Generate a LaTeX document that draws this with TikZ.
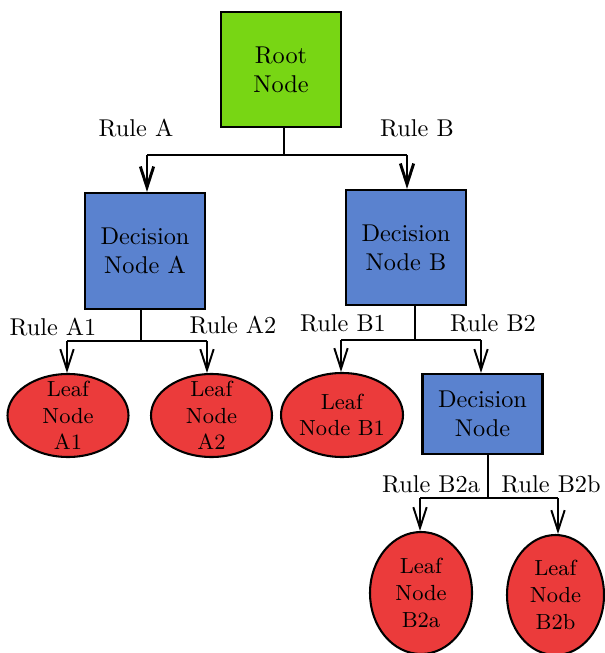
\documentclass[tikz,border=0pt]{standalone}
\usetikzlibrary{arrows.meta,shapes.geometric}
\definecolor{rootgreen}{RGB}{120,214,20}
\definecolor{decblue}{RGB}{90,130,207}
\definecolor{leafred}{RGB}{235,59,59}
\begin{document}
\begin{tikzpicture}[x=0.4115pt,y=-0.4115pt,
 box/.style={draw, line width=0.9pt, align=center, inner sep=0pt, font=\normalsize},
 rootbox/.style={box, fill=rootgreen, minimum width={120*0.4115pt}, minimum height={115*0.4115pt}},
 decbox/.style={box, fill=decblue, minimum width={120*0.4115pt}},
 leaf/.style={ellipse, draw, line width=0.85pt, fill=leafred, inner sep=0pt},
 leaftext/.style={align=center, inner sep=0pt, font=\small},
 conn/.style={line width=0.8pt},
 connthick/.style={line width=1.2pt},
 arrowtip/.style={-{Straight Barb[length=8.5pt,width=5.5pt]}},
 lbl/.style={font=\normalsize, inner sep=0pt}]
\useasboundingbox (0,0) rectangle (604,653);
% nodes
\node[rootbox] (root) at (281,69.5) {Root\\Node};
\node[decbox, minimum height={116*0.4115pt}] (decA) at (145,251) {Decision\\Node A};
\node[decbox, minimum height={115*0.4115pt}] (decB) at (406,247.5) {Decision\\Node B};
\node[decbox, minimum height={80*0.4115pt}] (decB2) at (482.5,414) {Decision\\Node};
\node[leaf, minimum width={121*0.4115pt}, minimum height={83*0.4115pt}] (leafA1) at (68,415.5) {};
\node[leaftext] (leafA1t) at (leafA1.center) {Leaf\\Node\\A1};
\node[leaf, minimum width={121*0.4115pt}, minimum height={83*0.4115pt}] (leafA2) at (211.5,415.5) {};
\node[leaftext] (leafA2t) at (leafA2.center) {Leaf\\Node\\A2};
\node[leaf, minimum width={122*0.4115pt}, minimum height={84*0.4115pt}] (leafB1) at (342,415) {};
\node[leaftext] (leafB1t) at (leafB1.center) {Leaf\\Node B1};
\node[leaf, minimum width={102*0.4115pt}, minimum height={122*0.4115pt}] (leafB2a) at (421,593) {};
\node[leaftext] (leafB2at) at (leafB2a.center) {Leaf\\Node\\B2a};
\node[leaf, minimum width={97*0.4115pt}, minimum height={120*0.4115pt}] (leafB2b) at (555.5,595) {};
\node[leaftext] (leafB2bt) at (leafB2b.center) {Leaf\\Node\\B2b};
% labels
\node[lbl] (lA) at (136,128) {Rule A};
\node[lbl] (lB) at (417,128) {Rule B};
\node[lbl] (lA1) at (53,327) {Rule A1};
\node[lbl] (lA2) at (233,325) {Rule A2};
\node[lbl] (lB1) at (343,323) {Rule B1};
\node[lbl] (lB2) at (493,323) {Rule B2};
\node[lbl] (lB2a) at (431,484) {Rule B2a};
\node[lbl] (lB2b) at (551,484) {Rule B2b};
% junctions
\coordinate (jR) at (284,155);
\coordinate (jRA) at (147,155);
\coordinate (jRB) at (407,155);
\coordinate (jA) at (141,341);
\coordinate (jA1) at (67,341);
\coordinate (jA2) at (207,341);
\coordinate (jB) at (415,340);
\coordinate (jB1) at (341,340);
\coordinate (jB2) at (481,340);
\coordinate (jC) at (488,498);
\coordinate (jC1) at (420,498);
\coordinate (jC2) at (558,498);
% connectors
\draw[connthick] (jR |- root.south) -- (jR);
\draw[connthick] (jRA) -- (jRB);
\draw[connthick, arrowtip] (jRA) -- (jRA |- decA.north);
\draw[connthick, arrowtip] (jRB) -- (jRB |- decB.north);
\draw[conn] (jA |- decA.south) -- (jA);
\draw[conn] (jA1) -- (jA2);
\draw[conn, arrowtip] (jA1) -- (jA1 |- leafA1.north);
\draw[conn, arrowtip] (jA2) -- (jA2 |- leafA2.north);
\draw[conn] (jB |- decB.south) -- (jB);
\draw[conn] (jB1) -- (jB2);
\draw[conn, arrowtip] (jB1) -- (jB1 |- leafB1.north);
\draw[conn, arrowtip] (jB2) -- (jB2 |- decB2.north);
\draw[conn] (jC |- decB2.south) -- (jC);
\draw[conn] (jC1) -- (jC2);
\draw[conn, arrowtip] (jC1) -- (jC1 |- leafB2a.north);
\draw[conn, arrowtip] (jC2) -- (jC2 |- leafB2b.north);
\end{tikzpicture}
\end{document}
